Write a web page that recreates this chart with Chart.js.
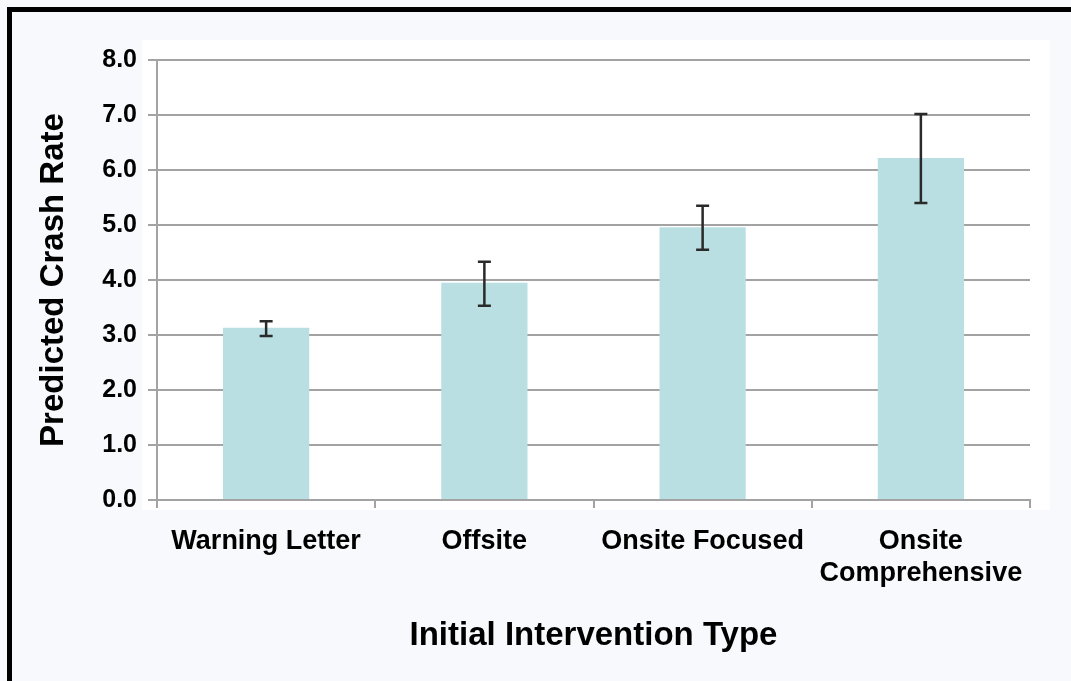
<!DOCTYPE html>
<html>
<head>
<meta charset="utf-8">
<script src="https://cdn.jsdelivr.net/npm/chart.js@4"></script>
<style>
  html, body { margin: 0; padding: 0; background: #f8f9fc; }
  #frame { position: absolute; left: 7px; top: 7px; width: 1064px; height: 674px;
           border-left: 5px solid #000; border-top: 5px solid #000; }
  #chart { position: absolute; left: 0; top: 0; z-index: 2; }
</style>
</head>
<body>
<div id="frame"></div>
<canvas id="chart" width="1071" height="681"></canvas>
<script>
// data
const categories = ["Warning Letter", "Offsite", "Onsite Focused", ["Onsite", "Comprehensive"]];
const crashRate = [3.13, 3.95, 4.96, 6.22];
const errLow = [2.98, 3.53, 4.55, 5.40];
const errHigh = [3.25, 4.33, 5.35, 7.02];

const gridGray = "#a3a3a3";
const fam = "'Liberation Sans', Arial, sans-serif";

// white panel behind the plot
const panelBg = {
    id: "panelBg",
    beforeDraw(chart) {
        const ctx = chart.ctx, a = chart.chartArea;
        ctx.save();
        ctx.fillStyle = "#ffffff";
        ctx.fillRect(a.left - 15, a.top - 20, a.right - a.left + 35, a.bottom - a.top + 30);
        ctx.restore();
    }
};

// error bars drawn from errLow / errHigh through the y scale
const errorBars = {
    id: "errorBars",
    afterDatasetsDraw(chart) {
        const ctx = chart.ctx, y = chart.scales.y;
        const bars = chart.getDatasetMeta(0).data;
        ctx.save();
        ctx.strokeStyle = "#2a2a2a";
        ctx.lineWidth = 2.5;
        bars.forEach(function (bar, i) {
            const x = bar.x;
            const yl = y.getPixelForValue(errLow[i]);
            const yh = y.getPixelForValue(errHigh[i]);
            ctx.beginPath();
            ctx.moveTo(x, yl); ctx.lineTo(x, yh);
            ctx.moveTo(x - 6.5, yl); ctx.lineTo(x + 6.5, yl);
            ctx.moveTo(x - 6.5, yh); ctx.lineTo(x + 6.5, yh);
            ctx.stroke();
        });
        ctx.restore();
    }
};

new Chart(document.getElementById("chart"), {
    type: "bar",
    data: {
        labels: categories,
        datasets: [{
            data: crashRate,
            backgroundColor: "#b9dfe2",
            borderWidth: 0,
            categoryPercentage: 1,
            barPercentage: 0.395
        }]
    },
    plugins: [panelBg, errorBars],
    options: {
        responsive: false,
        animation: false,
        devicePixelRatio: 1,
        layout: { padding: { top: 60, right: 41, left: 0, bottom: 0 } },
        plugins: { legend: { display: false }, tooltip: { enabled: false } },
        scales: {
            x: {
                afterFit: function (s) { s.height = 181; },
                grid: { offset: true, drawOnChartArea: false, color: gridGray, lineWidth: 2, tickLength: 8 },
                border: { color: gridGray, width: 2 },
                ticks: {
                    color: "#000",
                    padding: 17,
                    maxRotation: 0,
                    autoSkip: false,
                    font: { family: fam, size: 27, weight: "bold", lineHeight: 1.2 }
                },
                title: {
                    display: true,
                    text: "Initial Intervention Type",
                    color: "#000",
                    padding: { top: 0, bottom: 25 },
                    font: { family: fam, size: 33, weight: "bold", lineHeight: 1.2 }
                }
            },
            y: {
                min: 0,
                max: 8,
                afterFit: function (s) { s.width = 157; },
                grid: { color: gridGray, lineWidth: 2, tickLength: 9 },
                border: { color: gridGray, width: 2 },
                ticks: {
                    stepSize: 1,
                    color: "#000",
                    padding: 11,
                    font: { family: fam, size: 25, weight: "bold" },
                    callback: function (v) { return v.toFixed(1); }
                },
                title: {
                    display: true,
                    text: "Predicted Crash Rate",
                    color: "#000",
                    padding: { top: 34, bottom: 0 },
                    font: { family: fam, size: 33, weight: "bold", lineHeight: 1.2 }
                }
            }
        }
    }
});
</script>
</body>
</html>
